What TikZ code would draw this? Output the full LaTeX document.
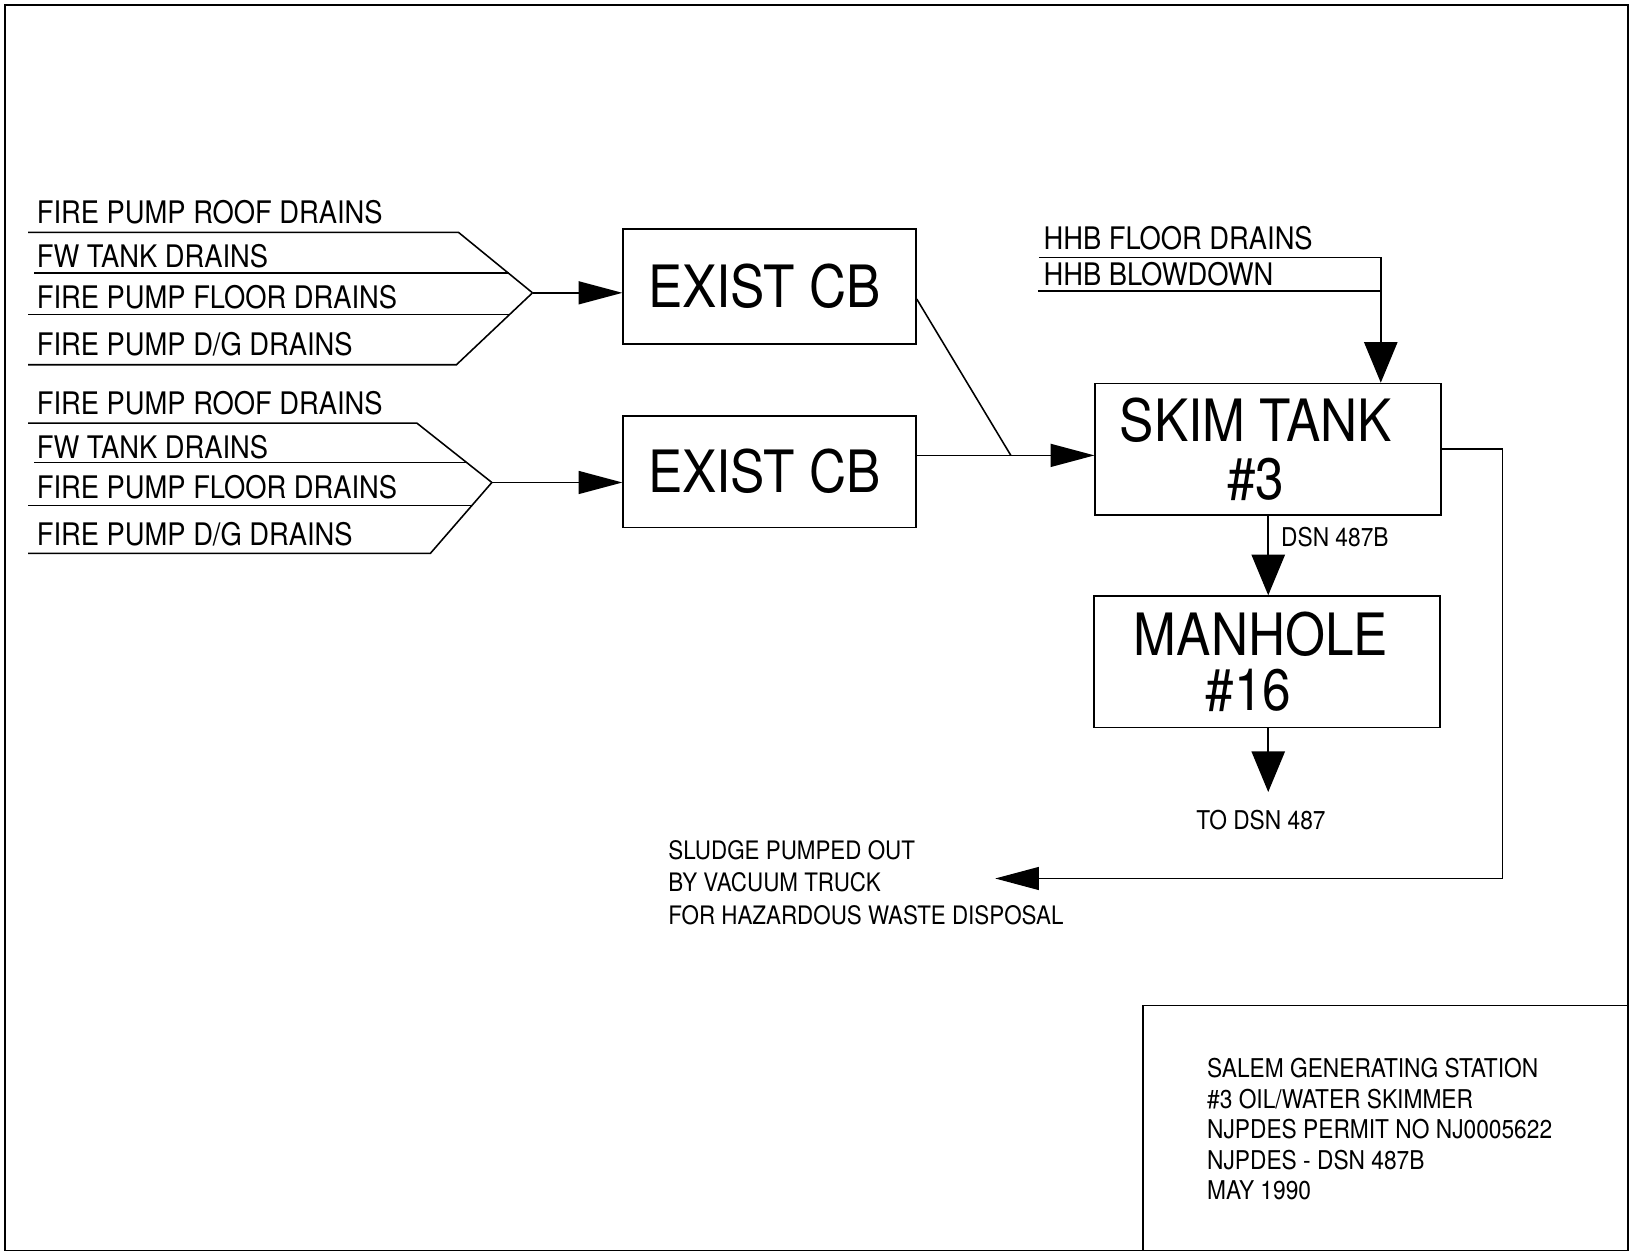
\documentclass[tikz,border=0pt]{standalone}
\usepackage{fontspec}
\setmainfont[FakeStretch=0.88]{TeX Gyre Heros}
\usetikzlibrary{arrows.meta}
\tikzset{
  ln/.style={line width=0.75pt},
  boxn/.style={draw, line width=0.75pt, inner sep=0pt, align=center},
  big/.style={font=\fontsize{28pt}{28pt}\selectfont},
  lab/.style={anchor=base west, inner sep=0pt, font=\fontsize{14.9pt}{18pt}\selectfont},
  small/.style={inner sep=0pt, font=\fontsize{12.4pt}{15pt}\selectfont},
  harrow/.style={line width=0.75pt, -{Triangle[length=21pt,width=11pt]}},
  varrow/.style={line width=0.75pt, -{Triangle[length=19.5pt,width=16pt]}},
}
\begin{document}
\begin{tikzpicture}[x=0.5pt,y=-0.5pt]
\useasboundingbox (0,0) rectangle (1568,1204);
% frame and title block
\draw[line width=0.9pt] (5,5) rectangle (1562,1200);
\draw[ln] (1097,1200) -- (1097,965) -- (1562,965);

% boxes
\node[boxn, big, minimum width=140.5pt, minimum height=55pt] (cb1) at (738.5,275) {EXIST CB\hspace*{5pt}};
\node[boxn, big, minimum width=140.5pt, minimum height=53.5pt] (cb2) at (738.5,452.5) {EXIST CB\hspace*{5pt}};
\node[boxn, big, minimum width=166pt, minimum height=63pt, font=\fontsize{28pt}{28pt}\selectfont] (skim) at (1217,431) {SKIM TANK\hspace*{12pt}\\\#3\hspace*{12pt}};
\node[boxn, minimum width=166pt, minimum height=63pt, font=\fontsize{28pt}{26.5pt}\selectfont] (mh) at (1216,635) {MANHOLE\hspace*{6pt}\\\#16\hspace*{18pt}};

% group 1 labels
\node[lab] (a1) at (35,214) {FIRE PUMP ROOF DRAINS};
\node[lab] (a2) at (35,257) {FW TANK DRAINS};
\node[lab] (a3) at (35,296) {FIRE PUMP FLOOR DRAINS};
\node[lab] (a4) at (35,341) {FIRE PUMP D/G DRAINS};
% group 2 labels
\node[lab] (b1) at (35,398) {FIRE PUMP ROOF DRAINS};
\node[lab] (b2) at (35,440) {FW TANK DRAINS};
\node[lab] (b3) at (35,478) {FIRE PUMP FLOOR DRAINS};
\node[lab] (b4) at (35,523) {FIRE PUMP D/G DRAINS};
% HHB labels
\node[lab] (h1) at (1001,239) {HHB FLOOR DRAINS};
\node[lab] (h2) at (1001,274) {HHB BLOWDOWN};

% group 1 lines
\coordinate (j1) at (511,281);
\coordinate (a1s) at (27,223);  \coordinate (a1b) at (440,223);
\coordinate (a2s) at (33,262);  \coordinate (a2e) at (488,262);
\coordinate (a3s) at (27,302);  \coordinate (a3e) at (489,302);
\coordinate (a4s) at (27,350);  \coordinate (a4b) at (438,350);
\draw[ln] (a1s) -- (a1b) -- (j1);
\draw[ln] (a2s) -- (a2e);
\draw[ln] (a3s) -- (a3e);
\draw[ln] (a4s) -- (a4b) -- (j1);
\draw[harrow] (j1) -- (j1 -| cb1.west);

% group 2 lines
\coordinate (j2) at (472,463);
\coordinate (b1s) at (27,406);  \coordinate (b1b) at (400,406);
\coordinate (b2s) at (33,444);  \coordinate (b2e) at (448,444);
\coordinate (b3s) at (27,485);  \coordinate (b3e) at (453,485);
\coordinate (b4s) at (27,531);  \coordinate (b4b) at (413,531);
\draw[ln] (b1s) -- (b1b) -- (j2);
\draw[ln] (b2s) -- (b2e);
\draw[ln] (b3s) -- (b3e);
\draw[ln] (b4s) -- (b4b) -- (j2);
\draw[harrow] (j2) -- (j2 -| cb2.west);

% CB to skim tank
\coordinate (m) at (970,437);
\draw[ln] ([yshift=-6pt]cb1.east) -- (m);
\draw[ln] ([yshift=7.75pt]cb2.east) -- (m);
\draw[harrow] (m) -- (m -| skim.west);

% HHB to skim tank
\coordinate (hs1) at (997,247);
\coordinate (hc) at (1325,247);
\coordinate (hs2) at (996,279);
\draw[ln] (hs1) -- (hc);
\draw[ln] (hs2) -- (hs2 -| hc);
\draw[varrow] (hc) -- (hc |- skim.north);

% skim to manhole
\draw[varrow] (skim.south) -- (skim.south |- mh.north);
\node[small, anchor=west] (dsn) at (1229,515) {DSN 487B};

% manhole out
\coordinate (out) at (1217,760);
\draw[varrow] (mh.south -| out) -- (out);
\node[small] (todsn) at (1210,787) {TO DSN 487};

% sludge
\coordinate (r1) at (1442,431);
\coordinate (r2) at (1442,843);
\coordinate (sl) at (955,843);
\draw[ln] (skim.east |- r1) -- (r1) -- (r2);
\draw[harrow] (r2) -- (sl);
\node[small, anchor=west, align=left, font=\fontsize{12.2pt}{15.5pt}\selectfont] (sludge) at (641,847) {SLUDGE PUMPED OUT\\BY VACUUM TRUCK\\FOR HAZARDOUS WASTE DISPOSAL};

% title block text
\node[small, anchor=west, align=left, font=\fontsize{12.4pt}{14.6pt}\selectfont] (title) at (1158,1083.5) {SALEM GENERATING STATION\\\#3 OIL/WATER SKIMMER\\NJPDES PERMIT NO NJ0005622\\NJPDES - DSN 487B\\MAY 1990};
\end{tikzpicture}
\end{document}
